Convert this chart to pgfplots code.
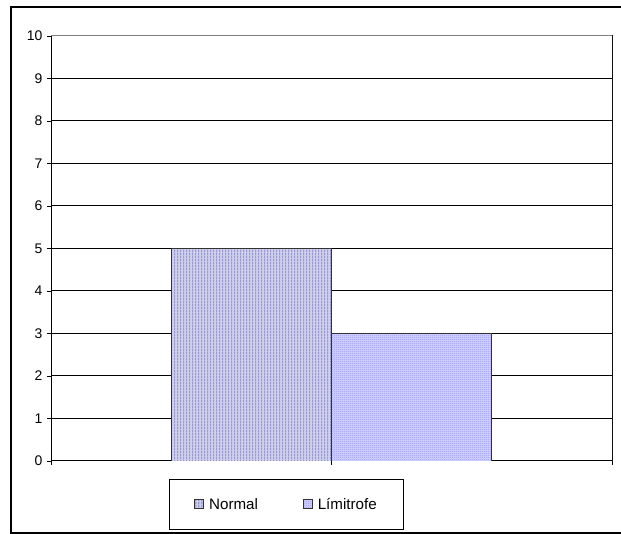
\documentclass[border=0pt]{standalone}
\usepackage{pgfplots}
\pgfplotsset{compat=1.18}
\usepackage{fontspec}
\setmainfont{Liberation Sans}
\usetikzlibrary{patterns.meta}

\definecolor{normfill}{HTML}{CFCFEE}
\definecolor{normline}{HTML}{9898CE}
\definecolor{limfill}{HTML}{D4D4FC}
\definecolor{limdots}{HTML}{8A8AF4}
\definecolor{edgegray}{HTML}{333333}

% fine vertical stripes (Normal)
\tikzdeclarepattern{
  name=vstripes,
  type=uncolored,
  bounding box={(0bp,0bp) and (3bp,3bp)},
  tile size={(3bp,3bp)},
  code={\fill (0bp,0bp) rectangle (1.6bp,3bp);}
}
% fine checker (Limitrofe)
\tikzdeclarepattern{
  name=checker,
  type=uncolored,
  bounding box={(0bp,0bp) and (2bp,2bp)},
  tile size={(2bp,2bp)},
  code={\fill (0bp,0bp) rectangle (1bp,1bp); \fill (1bp,1bp) rectangle (2bp,2bp);}
}

\begin{document}
\begin{tikzpicture}[x=1bp,y=1bp]
\path[use as bounding box] (0,0) rectangle (621,534);
\clip (0,0) rectangle (621,534);
\draw[black, line width=1.5bp] (11,0.8) rectangle (640,527);

\begin{axis}[
    at={(51bp,73bp)}, anchor=south west,
    scale only axis,
    width=561bp, height=425bp,
    xmin=0, xmax=1,
    ymin=0, ymax=10,
    ybar=0pt,
    bar width=160bp,
    xtick={0,0.5,1},
    xticklabels={},
    ytick={0,1,...,10},
    xtick pos=left, ytick pos=left,
    tick align=outside,
    major tick length=4bp,
    tick style={black, line width=0.8bp},
    axis line style={black, line width=1bp},
    ymajorgrids=true,
    grid style={black, line width=1bp},
    /pgf/number format/assume math mode=true,
    yticklabel style={font=\fontsize{14}{16}\selectfont, xshift=-1bp},
    legend columns=2,
    legend style={
        at={(0.2103,-0.1625)}, anchor=south west,
        draw=black, line width=0.9bp,
        font=\fontsize{15.2}{18}\selectfont,
        inner xsep=25bp, inner ysep=17bp,
        /tikz/every even column/.append style={column sep=43bp},
        /tikz/every odd column/.append style={column sep=3bp},
    },
    legend image code/.code={
        \draw[#1, line width=0.8bp] (0bp,-4bp) rectangle (9bp,4.5bp);
    },
]
\addplot[draw=edgegray, line width=0.8bp, fill=normfill,
    postaction={pattern=vstripes, pattern color=normline}]
    coordinates {(0.5,5)};
\addplot[draw=edgegray, line width=0.8bp, fill=limfill,
    postaction={pattern=checker, pattern color=limdots}]
    coordinates {(0.5,3)};
\legend{Normal, Límitrofe}
\draw[gray, line width=1bp] (rel axis cs:0,1) -- (rel axis cs:1,1) -- (rel axis cs:1,0);
\end{axis}
\end{tikzpicture}
\end{document}
